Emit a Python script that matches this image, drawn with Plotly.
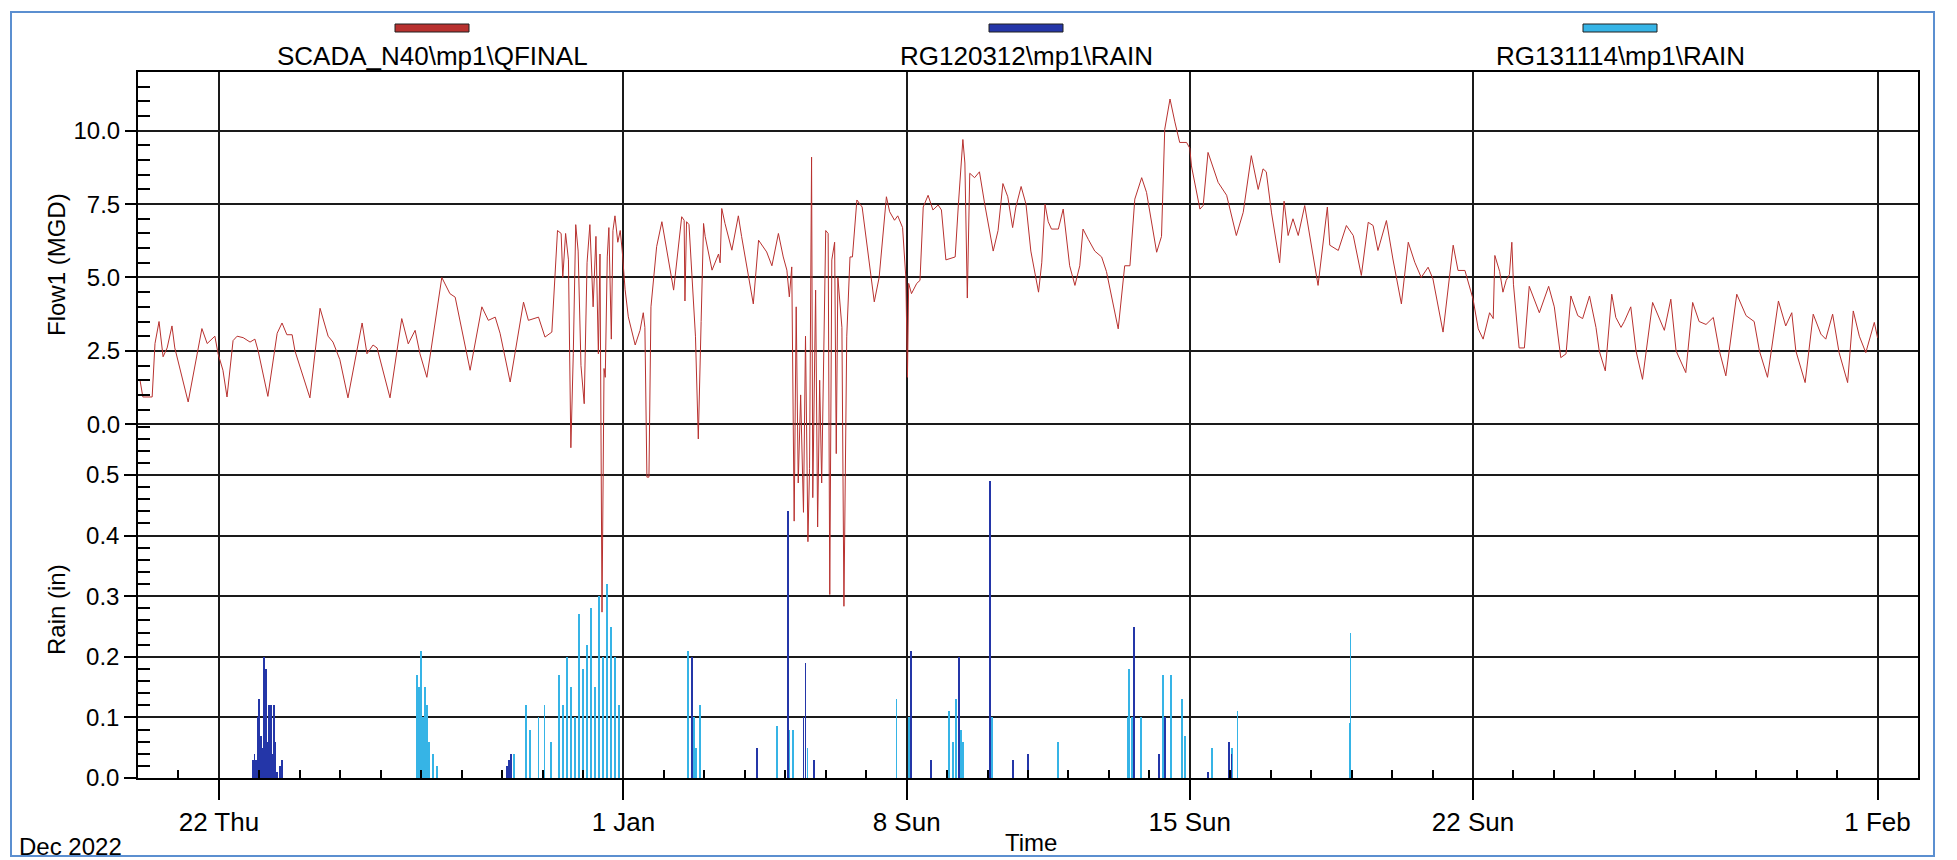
import pandas as pd
import plotly.graph_objects as go

# ---- data (days counted from 2022-12-20 00:00) ----
START = pd.Timestamp("2022-12-20")

flow_day = [
    0.05, 0.12, 0.35, 0.42, 0.52, 0.62, 0.72, 0.84, 0.91, 1.24, 1.58, 1.71, 1.90, 1.98,
    2.10, 2.20, 2.35, 2.45, 2.60, 2.77, 2.89, 2.97, 3.21, 3.44, 3.56, 3.68, 3.81, 3.88,
    4.25, 4.50, 4.70, 4.82, 4.99, 5.19, 5.54, 5.66, 5.81, 5.91, 6.23, 6.52, 6.68, 6.85,
    6.97, 7.14, 7.24, 7.51, 7.71, 7.84, 8.21, 8.50, 8.66, 8.83, 8.95, 9.20, 9.53, 9.65,
    9.90, 10.06, 10.23, 10.37, 10.46, 10.50, 10.57, 10.64, 10.70, 10.76, 10.82, 10.88,
    10.95, 11.03, 11.10, 11.17, 11.25, 11.32, 11.38, 11.42, 11.47, 11.52, 11.55, 11.60,
    11.64, 11.70, 11.74, 11.79, 11.86, 11.92, 11.97, 12.04, 12.12, 12.29, 12.41, 12.49,
    12.53, 12.58, 12.63, 12.68, 12.82, 12.95, 13.24, 13.44, 13.50, 13.52, 13.56, 13.62,
    13.78, 13.85, 13.92, 13.98, 14.02, 14.19, 14.35, 14.39, 14.43, 14.51, 14.68, 14.84,
    14.92, 15.09, 15.21, 15.34, 15.54, 15.67, 15.83, 15.95, 16.04, 16.10, 16.16, 16.22,
    16.27, 16.32, 16.38, 16.45, 16.50, 16.56, 16.60, 16.65, 16.68, 16.75, 16.80, 16.85,
    16.90, 17.00, 17.06, 17.10, 17.15, 17.22, 17.26, 17.30, 17.40, 17.45, 17.52, 17.60,
    17.66, 17.77, 17.90, 18.20, 18.32, 18.50, 18.58, 18.70, 18.78, 18.90, 18.98, 19.02,
    19.05, 19.12, 19.25, 19.33, 19.41, 19.53, 19.65, 19.78, 19.86, 19.97, 20.20, 20.28,
    20.39, 20.44, 20.50, 20.56, 20.68, 20.80, 20.93, 21.14, 21.26, 21.38, 21.50, 21.62,
    21.70, 21.83, 21.95, 22.07, 22.26, 22.34, 22.42, 22.50, 22.58, 22.75, 22.87, 23.03,
    23.16, 23.28, 23.36, 23.49, 23.65, 23.82, 23.94, 24.23, 24.39, 24.52, 24.64, 24.81,
    24.93, 25.18, 25.30, 25.38, 25.51, 25.63, 25.75, 25.92, 26.00, 26.04, 26.25, 26.33,
    26.45, 26.70, 26.91, 27.15, 27.32, 27.52, 27.69, 27.81, 27.89, 28.02, 28.22, 28.33,
    28.43, 28.55, 28.68, 28.84, 29.01, 29.17, 29.40, 29.46, 29.67, 29.87, 30.04, 30.24,
    30.41, 30.53, 30.65, 30.86, 31.02, 31.23, 31.40, 31.56, 31.72, 31.89, 32.01, 32.26,
    32.51, 32.63, 32.80, 33.00, 33.13, 33.25, 33.41, 33.50, 33.54, 33.66, 33.74, 33.82,
    33.90, 33.96, 34.00, 34.14, 34.27, 34.39, 34.64, 34.87, 35.01, 35.17, 35.30, 35.42,
    35.59, 35.71, 35.88, 36.04, 36.12, 36.27, 36.43, 36.53, 36.66, 36.74, 36.90, 37.03,
    37.19, 37.44, 37.73, 37.89, 38.02, 38.26, 38.43, 38.59, 38.76, 38.94, 39.09, 39.25,
    39.52, 39.75, 39.95, 40.08, 40.28, 40.55, 40.73, 40.88, 40.98, 41.21, 41.41, 41.60,
    41.72, 41.89, 42.05, 42.26, 42.40, 42.55, 42.71, 42.92, 43.00,
]
flow_mgd = [
    1.50, 0.93, 0.93, 2.75, 3.50, 2.30, 2.60, 3.35, 2.60, 0.76, 3.26, 2.75, 3.00, 2.40,
    1.84, 0.93, 2.85, 3.00, 2.95, 2.80, 2.90, 2.50, 0.95, 3.10, 3.45, 3.05, 3.05, 2.50,
    0.90, 3.95, 3.00, 2.80, 2.20, 0.90, 3.45, 2.40, 2.70, 2.60, 0.90, 3.60, 2.74, 3.20,
    2.40, 1.60, 2.50, 5.00, 4.45, 4.33, 1.84, 4.00, 3.54, 3.65, 3.10, 1.44, 4.16, 3.54,
    3.65, 2.97, 3.14, 6.60, 6.50, 5.00, 6.50, 5.60, -0.80, 2.40, 6.80, 5.90,
    2.00, 0.70, 5.50, 6.80, 4.00, 6.40, 2.40, 5.80, -6.40, 1.90, 1.60, 5.70,
    6.70, 2.90, 6.60, 7.10, 6.20, 6.60, 5.90, 4.60, 3.66, 2.70, 3.20, 3.80,
    3.30, -1.80, -1.80, 4.00, 6.05, 6.90, 4.57, 7.07, 6.95, 4.20, 6.90, 6.80,
    3.00, -0.50, 3.50, 6.84, 6.40, 5.25, 5.80, 5.50, 7.35, 6.84, 5.93, 7.10,
    6.40, 5.00, 4.10, 6.27, 5.87, 5.40, 6.50, 5.70, 5.25, 4.34, 5.36, -3.30,
    4.00, -2.00, 1.00, -3.00, 3.00, -4.00, -1.50, 9.10, -2.50, 4.57, -3.50, 1.50,
    -2.00, 6.60, 6.50, -5.80, 5.60, 6.20, -1.00, 5.00, 3.30, -6.20, 3.00, 5.70,
    5.70, 7.64, 7.40, 4.17, 5.00, 7.75, 7.24, 6.95, 7.10, 6.70, 5.00, 1.60,
    4.80, 4.45, 4.80, 4.90, 7.40, 7.80, 7.30, 7.47, 7.30, 5.60, 5.70, 7.50,
    9.70, 8.90, 4.30, 8.55, 8.40, 8.60, 7.50, 5.90, 6.60, 8.20, 7.75, 6.70,
    7.40, 8.10, 7.50, 5.90, 4.50, 5.50, 7.50, 6.90, 6.65, 6.65, 7.33, 5.40,
    4.73, 5.40, 6.65, 6.30, 5.90, 5.70, 5.20, 3.25, 5.40, 5.40, 7.67, 8.40,
    7.90, 5.86, 6.40, 10.05, 11.08, 10.30, 9.60, 9.60, 9.40, 8.80, 7.33, 7.45,
    9.26, 8.24, 7.80, 6.43, 7.22, 9.15, 8.00, 8.70, 8.60, 7.20, 5.50, 7.60,
    6.43, 7.00, 6.43, 7.45, 5.97, 4.73, 7.40, 6.10, 5.92, 6.77, 6.43, 5.07,
    6.88, 6.77, 5.92, 6.94, 5.63, 4.10, 6.20, 5.52, 5.00, 5.35, 4.95, 3.14,
    6.10, 5.24, 5.24, 4.27, 3.25, 2.90, 3.80, 3.60, 5.75, 5.20, 4.50, 4.90,
    5.10, 6.20, 4.77, 2.60, 2.60, 4.70, 3.80, 4.70, 4.00, 2.27, 2.40, 4.37,
    3.70, 3.60, 4.37, 3.30, 2.50, 1.82, 4.43, 3.64, 3.30, 3.50, 4.00, 2.50,
    1.53, 4.15, 3.20, 4.26, 2.50, 1.76, 4.15, 3.50, 3.40, 3.64, 2.50, 1.65,
    4.43, 3.70, 3.50, 2.50, 1.60, 4.20, 3.35, 3.80, 2.50, 1.42, 3.75, 3.07,
    2.90, 3.75, 2.44, 1.42, 3.86, 3.00, 2.44, 3.47, 2.95,
]

rg120312_day = [
    2.84, 2.88, 2.92, 2.96, 3.00, 3.04, 3.08, 3.12, 3.16, 3.20, 3.24, 3.28, 3.32, 3.36,
    3.40, 3.44, 3.50, 3.55, 9.12, 9.17, 9.22, 13.70, 15.30, 16.06, 16.45, 16.50, 16.70,
    19.10, 19.60, 20.30, 21.07, 21.62, 22.00, 24.62, 25.23, 25.39, 26.45, 26.97, 27.03,
]
rg120312_in = [
    0.03, 0.04, 0.03, 0.10, 0.13, 0.07, 0.05, 0.20, 0.18, 0.06, 0.12, 0.12, 0.04, 0.12,
    0.06, 0.01, 0.02, 0.03, 0.02, 0.03, 0.04, 0.20, 0.05, 0.44, 0.10, 0.19, 0.03,
    0.21, 0.03, 0.20, 0.49, 0.03, 0.04, 0.25, 0.04, 0.10, 0.01, 0.06, 0.04,
]

rg131114_day = [
    6.90, 6.95, 7.00, 7.05, 7.10, 7.15, 7.20, 7.30, 7.40,
    9.30, 9.60, 9.70, 9.90, 10.05, 10.20, 10.40, 10.50, 10.60, 10.70, 10.80, 10.90,
    11.00, 11.10, 11.20, 11.30, 11.40, 11.50, 11.60, 11.70, 11.80, 11.90,
    13.60, 13.68, 13.75, 13.80, 13.90, 15.80, 16.06, 16.10, 16.20, 16.45, 16.55,
    18.75, 19.05, 19.12, 20.05, 20.15, 20.23, 20.35, 20.40, 21.10,
    22.75, 24.46, 24.50, 24.58, 24.79, 25.34, 25.54, 25.81, 25.89, 26.55, 27.05,
    27.18, 29.95, 29.97,
]
rg131114_in = [
    0.17, 0.15, 0.21, 0.10, 0.15, 0.12, 0.06, 0.04, 0.02,
    0.04, 0.12, 0.08, 0.10, 0.12, 0.06, 0.17, 0.12, 0.20, 0.15, 0.10, 0.27,
    0.18, 0.22, 0.28, 0.15, 0.30, 0.20, 0.32, 0.25, 0.20, 0.12,
    0.21, 0.19, 0.10, 0.05, 0.12, 0.085, 0.35, 0.08, 0.08, 0.10, 0.05,
    0.13, 0.10, 0.10, 0.11, 0.06, 0.13, 0.08, 0.06, 0.10,
    0.06, 0.10, 0.18, 0.10, 0.10, 0.17, 0.17, 0.13, 0.07, 0.05, 0.05,
    0.11, 0.09, 0.24,
]

major_dates = ["2022-12-22", "2023-01-01", "2023-01-08", "2023-01-15", "2023-01-22", "2023-02-01"]
major_labels = ["22 Thu", "1 Jan", "8 Sun", "15 Sun", "22 Sun", "1 Feb"]
flow_ticks = [0.0, 2.5, 5.0, 7.5, 10.0]
rain_ticks = [0.0, 0.1, 0.2, 0.3, 0.4, 0.5]

series_names = ["SCADA_N40\\mp1\\QFINAL", "RG120312\\mp1\\RAIN", "RG131114\\mp1\\RAIN"]
FLOW_COLOR = "#b8312f"
RG1_COLOR = "#2436a8"
RG2_COLOR = "#36b4e6"

# ---- geometry ----
W, H = 1957, 860
L, R, T, B = 138, 39, 72, 82
PW, PH = W - L - R, H - T - B


def px(x):
    return (x - L) / PW


def py(y):
    return (H - B - y) / PH


def to_time(days):
    return START + pd.to_timedelta(pd.Series(days), unit="D")


FONT = "Liberation Sans, Arial, sans-serif"
bar_ms = 30 * 60 * 1000

fig = go.Figure()

fig.add_trace(go.Bar(
    x=to_time(rg131114_day), y=rg131114_in, width=bar_ms, yaxis="y",
    marker=dict(color=RG2_COLOR, line=dict(width=0)), name=series_names[2],
))
fig.add_trace(go.Bar(
    x=to_time(rg120312_day), y=rg120312_in, width=bar_ms, yaxis="y",
    marker=dict(color=RG1_COLOR, line=dict(width=0)), name=series_names[1],
))
fig.add_trace(go.Scatter(
    x=to_time(flow_day), y=flow_mgd, mode="lines", yaxis="y2",
    line=dict(color=FLOW_COLOR, width=1), name=series_names[0],
))

day_ticks = pd.date_range("2022-12-21", "2023-02-01", freq="D")
minor_x = [d for d in day_ticks if d.strftime("%Y-%m-%d") not in major_dates]

flow_minor = [i * 0.5 for i in range(1, 24) if (i * 0.5) not in flow_ticks]
rain_minor = [round(i * 0.02, 2) for i in range(1, 30) if round(i * 0.02, 2) not in rain_ticks]

GRID = "#1a1a1a"

fig.update_layout(
    width=W, height=H,
    margin=dict(l=L, r=R, t=T, b=B),
    paper_bgcolor="white", plot_bgcolor="white",
    showlegend=False, bargap=0, barmode="overlay",
    font=dict(family=FONT, size=24, color="black"),
    xaxis=dict(
        type="date", range=[START, START + pd.Timedelta(days=44)],
        tickmode="array", tickvals=major_dates, ticktext=major_labels,
        ticks="outside", ticklen=20, tickwidth=1.5, tickcolor="black",
        showgrid=True, gridcolor=GRID, gridwidth=1.5,
        showline=True, linecolor="black", linewidth=1.5, mirror=True,
        zeroline=False, tickfont=dict(size=26),
        minor=dict(tickmode="array", tickvals=minor_x, ticks="inside",
                   ticklen=8, tickwidth=1.5, tickcolor="black", showgrid=False),
    ),
    yaxis=dict(
        range=[0, 1.165], tickmode="array", tickvals=rain_ticks,
        ticktext=[f"{v:.1f}" for v in rain_ticks],
        ticks="outside", ticklen=12, tickwidth=1.5, tickcolor="black",
        showgrid=True, gridcolor=GRID, gridwidth=1.5,
        showline=True, linecolor="black", linewidth=1.5, mirror=True,
        zeroline=False, tickfont=dict(size=24),
        minor=dict(tickmode="array", tickvals=rain_minor, ticks="inside",
                   ticklen=12, tickwidth=1.5, tickcolor="black", showgrid=False),
    ),
    yaxis2=dict(
        overlaying="y", side="left", anchor="x",
        range=[-12.05, 12], tickmode="array", tickvals=flow_ticks,
        ticktext=[f"{v:.1f}" for v in flow_ticks],
        ticks="outside", ticklen=12, tickwidth=1.5, tickcolor="black",
        showgrid=True, gridcolor=GRID, gridwidth=1.5,
        showline=False, zeroline=False, tickfont=dict(size=24),
        minor=dict(tickmode="array", tickvals=flow_minor, ticks="inside",
                   ticklen=12, tickwidth=1.5, tickcolor="black", showgrid=False),
    ),
)


def label(text, x, y, size=24, **kw):
    fig.add_annotation(text=text, xref="paper", yref="paper", x=px(x), y=py(y),
                       xanchor=kw.pop("xanchor", "center"), yanchor="middle",
                       showarrow=False, font=dict(size=size), **kw)


# axis titles and date caption
label("Flow1 (MGD)", 56, 265, textangle=-90)
label("Rain (in)", 56, 610, textangle=-90)
label("Time", 1031, 842)
label("Dec 2022", 17, 846, xanchor="left")

# series key along the top
key_centers = [432, 1026, 1620]
key_colors = [FLOW_COLOR, RG1_COLOR, RG2_COLOR]
for cx, name, col in zip(key_centers, series_names, key_colors):
    fig.add_shape(type="rect", xref="paper", yref="paper",
                  x0=px(cx - 37), x1=px(cx + 37), y0=py(32), y1=py(24),
                  fillcolor=col, line=dict(color="#202020", width=1))
    label(name, cx, 56, size=26)

# outer frame of the page
fig.add_shape(type="rect", xref="paper", yref="paper",
              x0=px(11), x1=px(1934), y0=py(856), y1=py(12),
              line=dict(color="#5b8fd0", width=2), fillcolor="rgba(0,0,0,0)")

fig.write_html("out.html")
